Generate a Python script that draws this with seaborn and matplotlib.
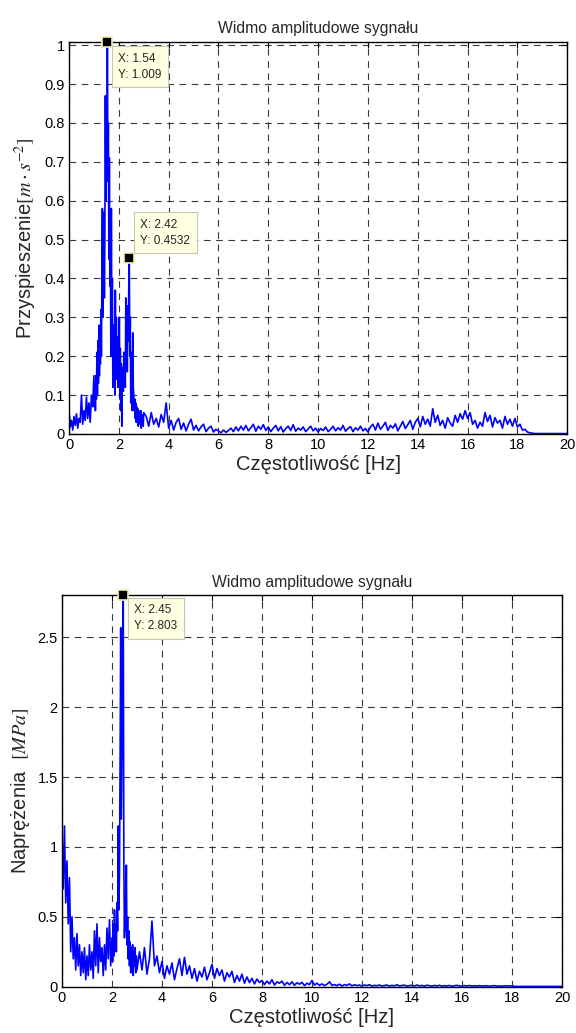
import numpy as np
import pandas as pd
import seaborn as sns
import matplotlib.pyplot as plt
from matplotlib.ticker import FormatStrFormatter

# ---- top spectrum: acceleration, values in 1/1000 m/s^2 ----
# 0.00 .. 0.95 Hz, step 0.05
acc_lo = [62, 18, 35, 10, 45, 22, 52, 15, 40, 30, 100, 25, 60, 35, 95, 40, 80, 30, 100, 70]
# 1.00 .. 3.00 Hz, step 0.02
acc_mid = [150, 70, 130, 60, 150, 90, 210, 100, 240, 130,
           280, 150, 250, 180, 320, 200, 400, 580, 300, 450,
           570, 350, 520, 870, 600, 780, 650, 1009, 700, 800,
           450, 710, 380, 550, 200, 580, 250, 400, 120, 280,
           160, 230, 100, 370, 140, 300, 180, 250, 120, 200,
           150, 300, 90, 220, 60, 180, 20, 150, 170, 110,
           210, 130, 200, 120, 350, 200, 330, 160, 300, 240,
           380, 453.2, 200, 300, 80, 150, 210, 60, 260, 120,
           100, 60, 90, 40, 80, 30, 70, 40, 65, 20,
           60, 30, 55, 25, 60, 15, 50, 30, 45, 20, 55]
# 3.1 .. 20.0 Hz, step 0.1
acc_hi = [45, 20, 55, 25, 40, 18, 50, 30, 80,
          15, 35, 10, 30, 40, 12, 28, 8, 25, 38,
          10, 22, 8, 18, 25, 6, 15, 20, 5, 12,
          8, 3, 10, 4, 9, 15, 6, 18, 8, 20,
          10, 22, 8, 16, 25, 7, 20, 12, 24, 9,
          18, 6, 15, 22, 8, 19, 5, 14, 20, 9,
          24, 7, 15, 10, 18, 6, 13, 20, 8, 15,
          5, 14, 9, 18, 6, 12, 20, 8, 16, 10,
          22, 7, 14, 19, 6, 16, 10, 20, 8, 14,
          5, 18, 25, 10, 28, 12, 20, 30, 9, 22,
          15, 26, 8, 20, 32, 14, 24, 35, 12, 30,
          40, 18, 45, 25, 38, 20, 65, 30, 48, 22,
          35, 15, 42, 28, 20, 48, 30, 52, 38, 60,
          40, 55, 25, 35, 15, 30, 20, 55, 32, 48,
          18, 42, 28, 35, 15, 45, 25, 38, 20, 40,
          18, 25, 10, 12, 5, 3, 2, 1, 1, 1,
          1, 1, 1, 1, 1, 1, 1, 1, 1, 1, 1]

# ---- bottom spectrum: stress, values in 1/1000 MPa ----
# 0.00 .. 1.95 Hz, step 0.05
str_lo = [1130, 700, 1150, 600, 900, 450, 780, 250, 500, 200,
          350, 120, 380, 150, 300, 80, 250, 100, 280, 50,
          220, 80, 300, 120, 250, 60, 400, 150, 450, 100,
          350, 180, 280, 80, 300, 120, 420, 200, 480, 150]
# 2.000 .. 3.000 Hz, step 0.025
str_mid = [350, 180, 450, 220, 550, 300, 450, 250, 600, 400,
           1150, 550, 800, 1600, 2570, 1200, 1700, 2200, 2803, 900,
           350, 620, 400, 870, 300, 500, 200, 400, 150, 320,
           100, 280, 120, 300, 80, 250, 150, 280, 100, 220, 120]
# 3.1 .. 20.0 Hz, step 0.1
str_hi = [250, 120, 280, 90, 200, 470, 150, 220, 100,
          180, 60, 150, 90, 170, 50, 130, 200, 80, 210,
          90, 150, 60, 130, 40, 110, 70, 140, 50, 100,
          160, 60, 130, 80, 120, 40, 100, 70, 110, 30,
          80, 40, 90, 25, 70, 30, 60, 20, 55, 30,
          45, 15, 40, 20, 50, 12, 35, 25, 40, 10,
          30, 15, 35, 10, 28, 18, 32, 8, 25, 15,
          45, 12, 25, 10, 20, 8, 18, 35, 10, 15,
          8, 18, 5, 15, 10, 20, 6, 14, 8, 12,
          5, 12, 8, 15, 4, 10, 7, 12, 5, 9,
          12, 4, 10, 6, 14, 5, 9, 11, 4, 8,
          10, 5, 12, 6, 9, 4, 11, 7, 5, 9,
          6, 10, 4, 8, 5, 9, 3, 7, 10, 5,
          4, 8, 5, 9, 3, 7, 5, 8, 4, 6,
          7, 3, 6, 8, 4, 6, 3, 7, 5, 6,
          5, 3, 2, 2, 2, 2, 2, 2, 2, 2,
          2, 2, 2, 2, 2, 2, 2, 2, 2, 2, 2]


def freq_axis(lo, mid, mid_start, mid_step, hi):
    f_lo = 0.05 * np.arange(len(lo))
    f_mid = mid_start + mid_step * np.arange(len(mid))
    f_hi = 3.1 + 0.1 * np.arange(len(hi))
    return np.concatenate([f_lo, f_mid, f_hi])


df_acc = pd.DataFrame({
    "f": freq_axis(acc_lo, acc_mid, 1.0, 0.02, acc_hi),
    "a": np.array(acc_lo + acc_mid + acc_hi, dtype=float) / 1000.0,
})
df_str = pd.DataFrame({
    "f": freq_axis(str_lo, str_mid, 2.0, 0.025, str_hi),
    "a": np.array(str_lo + str_mid + str_hi, dtype=float) / 1000.0,
})

sns.set_style("white")
plt.rcParams["font.family"] = ["Liberation Sans", "DejaVu Sans"]
plt.rcParams["mathtext.fontset"] = "stix"

fig = plt.figure(figsize=(5.76, 10.33), dpi=100)
ax1 = fig.add_axes([0.1198, 0.5799, 0.865, 0.3797])
ax2 = fig.add_axes([0.1076, 0.0448, 0.868, 0.3792])


def style_axes(ax, ymax, ystep, ylabel):
    ax.set_xlim(0, 20)
    ax.set_ylim(0, ymax)
    ax.set_xticks(np.arange(0, 21, 2))
    ax.set_yticks(np.arange(0, ymax + 1e-6, ystep))
    ax.yaxis.set_major_formatter(FormatStrFormatter("%g"))
    ax.xaxis.set_major_formatter(FormatStrFormatter("%g"))
    ax.tick_params(direction="in", top=True, right=True, length=4, width=0.8,
                   labelsize=10.5, pad=3, colors="black")
    ax.grid(True, color="#222222", linestyle=(0, (6, 5)), linewidth=0.8, alpha=0.9)
    ax.set_axisbelow(True)
    for s in ax.spines.values():
        s.set_color("black")
        s.set_linewidth(1.0)
    ax.set_title("Widmo amplitudowe sygnału", fontsize=11.3, pad=6)
    ax.set_xlabel("Częstotliwość [Hz]", fontsize=14.5, labelpad=2)
    ax.set_ylabel(ylabel, fontsize=14.5, labelpad=4)


def data_tip(ax, x, y, label, dx, dy, va):
    ax.plot([x], [y], marker="s", markersize=7, color="black",
            markeredgecolor="#f5f0b0", markeredgewidth=1.2, clip_on=False, zorder=5)
    ax.annotate(label, xy=(x, y), xytext=(dx, dy), textcoords="offset pixels",
                ha="left", va=va, fontsize=8.5, linespacing=1.45, zorder=6,
                bbox=dict(boxstyle="square,pad=0.55", fc="#ffffe1", ec="#c8c8b0", lw=0.8))


sns.lineplot(data=df_acc, x="f", y="a", ax=ax1, color="#0000ff", linewidth=1.2,
             estimator=None, sort=False)
style_axes(ax1, 1.009, 0.1, r"Przyspieszenie$\left[m\cdot s^{-2}\right]$")
data_tip(ax1, 1.54, 1.009, "X: 1.54\nY: 1.009", 11, -11, "top")
data_tip(ax1, 2.42, 0.4532, "X: 2.42\nY: 0.4532", 11, 11, "bottom")

sns.lineplot(data=df_str, x="f", y="a", ax=ax2, color="#0000ff", linewidth=1.2,
             estimator=None, sort=False)
style_axes(ax2, 2.803, 0.5, r"Naprężenia  $[MPa]$")
data_tip(ax2, 2.45, 2.803, "X: 2.45\nY: 2.803", 11, -9, "top")

fig.savefig("out.png", dpi=100)
